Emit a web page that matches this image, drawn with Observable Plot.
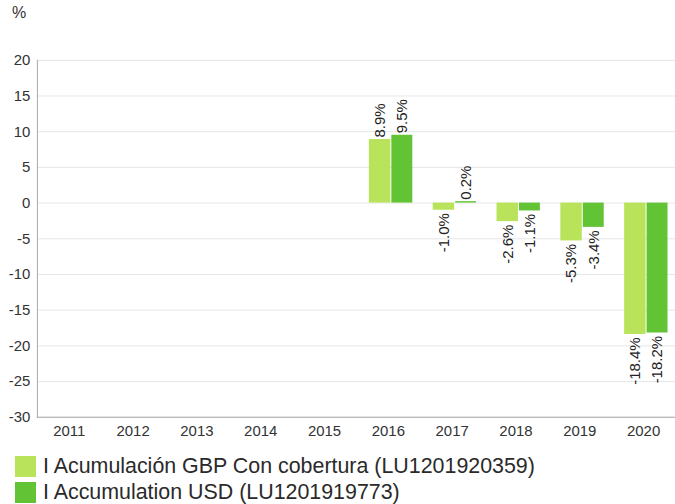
<!DOCTYPE html>
<html><head><meta charset="utf-8">
<script src="https://cdn.jsdelivr.net/npm/d3@7"></script>
<script src="https://cdn.jsdelivr.net/npm/@observablehq/plot@0.6"></script>
<style>
html,body{margin:0;padding:0;background:#fff;overflow:hidden;width:675px;height:504px}
#wrap{position:relative;width:675px;height:504px;overflow:hidden;font-family:"Liberation Sans",Arial,sans-serif}
#unit{position:absolute;left:12px;top:4px;font-size:16px;color:#333}
#legend{position:absolute;left:15px;top:456px}
.item{display:flex;align-items:center;height:21px;margin-bottom:5px;font-size:21.4px;color:#2a2a2a;white-space:nowrap}
.sw{width:21px;height:21px;margin-right:7px;flex:none}
</style></head>
<body><div id="wrap"><div id="chart"></div><div id="unit">%</div><div id="legend"></div></div>
<script>
const years = ["2011","2012","2013","2014","2015","2016","2017","2018","2019","2020"];
const gbpValues = [null, null, null, null, null, 8.9, -1.0, -2.6, -5.3, -18.4];
const usdValues = [null, null, null, null, null, 9.5, 0.2, -1.1, -3.4, -18.2];
const seriesNames = ["I Acumulación GBP Con cobertura (LU1201920359)", "I Accumulation USD (LU1201919773)"];
const colors = ["#b8e35b", "#62c334"];
const yTicks = [-30, -25, -20, -15, -10, -5, 0, 5, 10, 15, 20];

const rows = years.map((year, i) => ({year, gbp: gbpValues[i], usd: usdValues[i]}));
const fmt = v => v == null ? "" : v.toFixed(1) + "%";

const labelStyle = {rotate: -90, lineAnchor: "middle", fill: "#222", fontSize: 15};

const chart = Plot.plot({
  width: 677, height: 445,
  marginLeft: 37, marginRight: 0, marginTop: 60, marginBottom: 27,
  style: {fontFamily: "'Liberation Sans', Arial, sans-serif", fontSize: "15px", color: "#333", background: "transparent", overflow: "visible"},
  x: {domain: years, padding: 0, label: null},
  y: {domain: [-30, 20], label: null},
  marks: [
    Plot.ruleY(yTicks, {stroke: "#e6e6e6"}),
    Plot.barY(rows, {filter: d => d.gbp != null, x: "year", y: "gbp", fill: colors[0], insetLeft: 13, insetRight: 29.5}),
    Plot.barY(rows, {filter: d => d.usd != null, x: "year", y: "usd", fill: colors[1], insetLeft: 35.5, insetRight: 7.5}),
    Plot.text(rows, {filter: d => d.gbp != null && d.gbp >= 0, x: "year", y: "gbp", text: d => fmt(d.gbp), textAnchor: "start", dx: -8.25, dy: -2, ...labelStyle}),
    Plot.text(rows, {filter: d => d.gbp != null && d.gbp < 0, x: "year", y: "gbp", text: d => fmt(d.gbp), textAnchor: "end", dx: -8.25, dy: 3, ...labelStyle}),
    Plot.text(rows, {filter: d => d.usd != null && d.usd >= 0, x: "year", y: "usd", text: d => fmt(d.usd), textAnchor: "start", dx: 14, dy: -2, ...labelStyle}),
    Plot.text(rows, {filter: d => d.usd != null && d.usd < 0, x: "year", y: "usd", text: d => fmt(d.usd), textAnchor: "end", dx: 14, dy: 3, ...labelStyle}),
    Plot.ruleY([-30], {stroke: "#aaa"}),
    Plot.frame({anchor: "left", stroke: "#aaa"}),
    Plot.axisX({tickSize: 0, tickPadding: 8, label: null, fill: "#333"}),
    Plot.axisY({ticks: yTicks, tickSize: 0, tickPadding: 7, label: null, fill: "#333", tickFormat: d => String(d)})
  ]
});
document.getElementById("chart").appendChild(chart);

const legend = document.getElementById("legend");
seriesNames.forEach((name, i) => {
  const item = document.createElement("div");
  item.className = "item";
  const sw = document.createElement("div");
  sw.className = "sw";
  sw.style.background = colors[i];
  const t = document.createElement("span");
  t.textContent = name;
  item.appendChild(sw);
  item.appendChild(t);
  legend.appendChild(item);
});
</script>
</body></html>
